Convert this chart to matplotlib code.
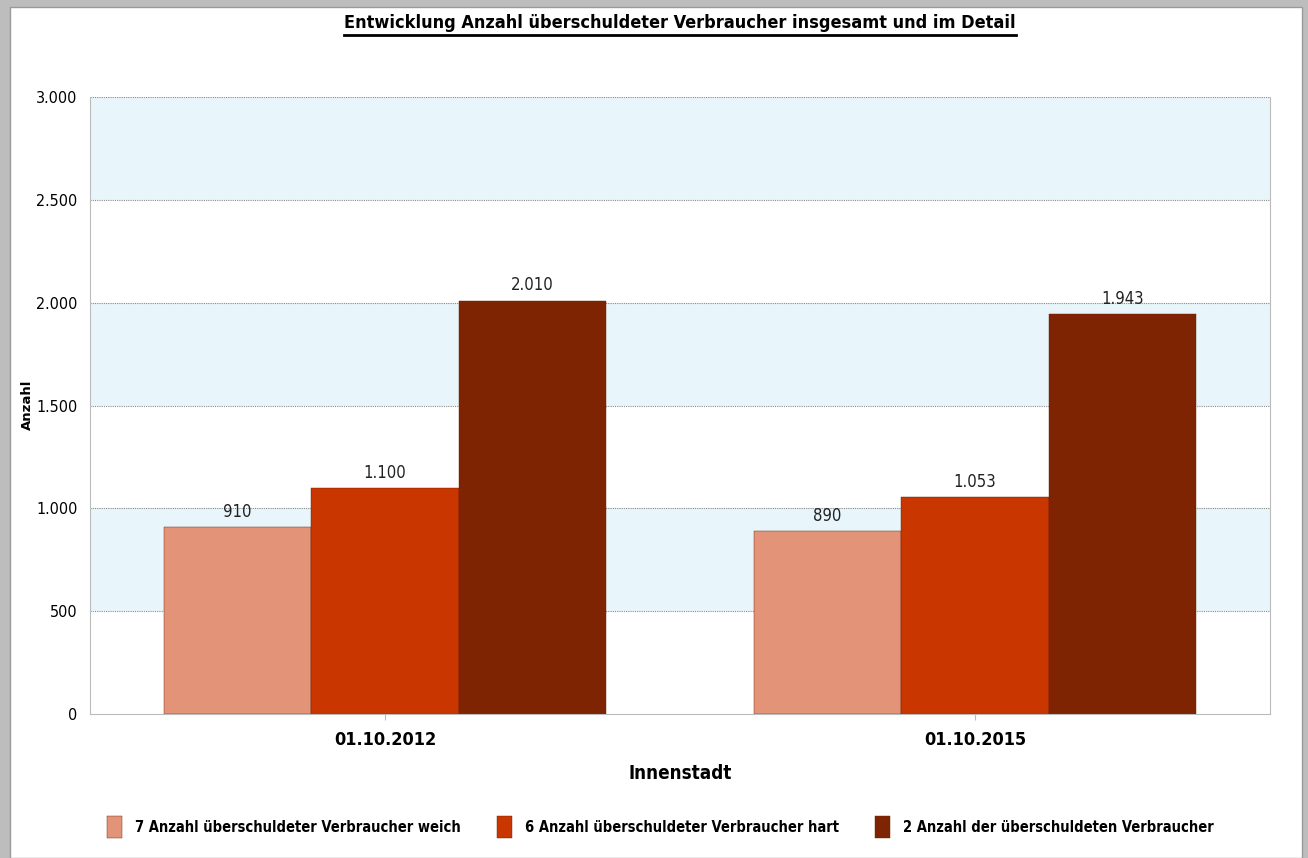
import matplotlib.pyplot as plt
from matplotlib.patches import Rectangle
import numpy as np

# ----------------------------------------------------------
# DATA
# ----------------------------------------------------------

categories = ["01.10.2012", "01.10.2015"]
series_names = [
    "7 Anzahl überschuldeter Verbraucher weich",
    "6 Anzahl überschuldeter Verbraucher hart",
    "2 Anzahl der überschuldeten Verbraucher",
]
weich = [910, 890]
hart = [1100, 1053]
gesamt = [2010, 1943]
y_ticks = [0, 500, 1000, 1500, 2000, 2500, 3000]

colors = ["#e29378", "#c93600", "#7f2402"]

FONT = ["Liberation Sans Narrow", "DejaVu Sans"]
STRETCH = "condensed"


def fmt(v):
    return f"{v:,}".replace(",", ".")


fig = plt.figure(figsize=(13.08, 8.58), dpi=100)
fig.patch.set_facecolor("#bdbdbd")
# white page inside the gray frame
fig.patches.append(Rectangle((10 / 1308, 0), (1302 - 10) / 1308, 1 - 7 / 858,
                             transform=fig.transFigure, facecolor="white",
                             edgecolor="#9a9a9a", linewidth=1, zorder=-5))

ax = fig.add_axes([90 / 1308, 1 - 714 / 858, (1270 - 90) / 1308, (714 - 97) / 858])
ax.set_facecolor("white")

# alternating bands, light blue from the top down
for i in range(len(y_ticks) - 1, 0, -2):
    ax.axhspan(y_ticks[i - 1], y_ticks[i], color="#e8f6fb", zorder=0, lw=0)
for t in y_ticks[1:]:
    ax.axhline(t, color="#8a8a8a", lw=0.8, ls=(0, (1, 1)), zorder=1)

x = np.arange(len(categories))
width = 0.25
for k, (vals, name) in enumerate(zip([weich, hart, gesamt], series_names)):
    pos = x + (k - 1) * width
    ax.bar(pos, vals, width, color=colors[k], edgecolor="#6a1d00", linewidth=0.3,
           label=name, zorder=2)
    for px, v in zip(pos, vals):
        ax.text(px, v + 30, fmt(v), ha="center", va="bottom", fontsize=12,
                family=FONT, stretch=STRETCH, color="#222222")

ax.set_xlim(-0.5, 1.5)
ax.set_ylim(0, 3000)
ax.set_yticks(y_ticks)
ax.set_yticklabels([fmt(t) for t in y_ticks], family=FONT, stretch=STRETCH, fontsize=11.5)
ax.set_xticks(x)
ax.set_xticklabels(categories, family=FONT, stretch=STRETCH, fontsize=13, fontweight="bold")
ax.tick_params(axis="y", length=0, pad=9)
ax.tick_params(axis="x", length=4, color="#bbbbbb", pad=8)

ax.spines["top"].set_visible(False)
for side in ["left", "right", "bottom"]:
    ax.spines[side].set_color("#bbbbbb")

ax.set_xlabel("Innenstadt", family=FONT, stretch=STRETCH, fontsize=13.5,
              fontweight="bold", labelpad=11)
fig.text(27 / 1308, 1 - 405 / 858, "Anzahl", rotation=90, ha="center", va="center",
         family=["DejaVu Sans"], fontsize=9.5, fontweight="bold")

title = fig.text(0.52, 1 - 23 / 858,
                 "Entwicklung Anzahl überschuldeter Verbraucher insgesamt und im Detail",
                 ha="center", va="center", family=FONT, stretch=STRETCH,
                 fontsize=13, fontweight="bold")

leg = fig.legend(loc="center", bbox_to_anchor=(0.505, 1 - 827 / 858), ncol=3, frameon=False,
                 prop={"family": FONT, "size": 10.5, "stretch": STRETCH, "weight": "bold"},
                 handlelength=1.0, handleheight=1.9, columnspacing=2.5, handletextpad=0.9)

# underline the title across its own width
fig.canvas.draw()
bb = title.get_window_extent().transformed(fig.transFigure.inverted())
fig.add_artist(plt.Line2D([bb.x0, bb.x1], [bb.y0 - 0.004, bb.y0 - 0.004],
                          color="black", lw=2, transform=fig.transFigure))

fig.savefig("out.png", dpi=100)
